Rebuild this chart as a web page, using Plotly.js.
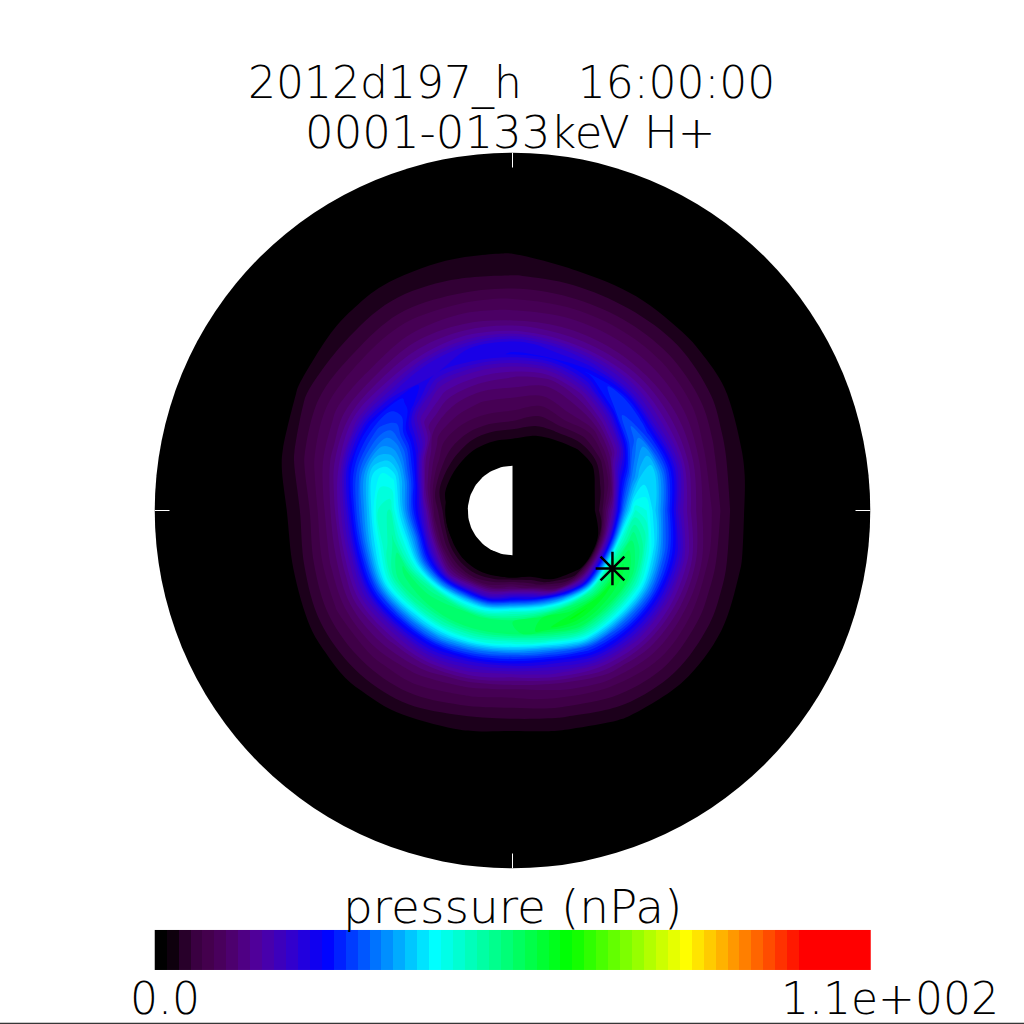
<!DOCTYPE html>
<html><head><meta charset="utf-8"><script src="https://cdn.plot.ly/plotly-3.0.1.min.js"></script>
<style>html,body{margin:0;padding:0;background:#fff}</style></head><body><div id="c" style="width:1024px;height:1024px"></div>
<script>
const radii=[1.5,1.75,2,2.25,2.5,2.75,3,3.25,3.5,3.75,4,4.25,4.5,4.75,5,5.25,5.5,5.75,6];
const angles=[0,15,30,45,60,75,90,105,120,135,150,165,180,195,210,225,240,255,270,285,300,315,330,345,360];
const p000=[0,0,5,16,34,46,44,37,28,18,12.5,9,7,4.5,2.7,1.5,0,0,0];
const p015=[0,0,3,8,24,33,39,40,31,22,14,10,7,5,3.2,2.1,.8,0,0];
const p030=[0,0,1,5,11,18,29,33,27,19,14,11,8.5,6.5,4.4,3,1.7,.3,0];
const p045=[0,.3,2,5,8,13,19,28,29,20,14.5,11,9,7,5,3.5,1.9,.4,0];
const p060=[0,1,3.5,6.5,9,11,14,20,26,20,14,11,9,7,5,3.4,2,.6,0];
const p075=[0,2,4,6,8,10,12,17,24,21,14,11,9,7,5,3.5,2.1,.8,0];
const p090=[1,3,5.5,7.5,9,11,13,17,24,23,15,11,9,7.2,5.2,3.7,2.7,1.8,0];
const p105=[1,3,5.5,7.5,9,11,13.5,17,23,22,15.5,11.5,9.5,7.5,5.5,4,3,2,.6];
const p120=[1,3,5.5,7.5,9.5,11.5,14,17,22,21,15,12,9.5,8,6,4.5,3.2,2.2,.5];
const p135=[1,3.5,6,8,11,14,18,25,26,20,15,11.5,9,7.5,5.5,4,2.8,1.5,0];
const p150=[1,4,8,13,24,30,33,33,30,25,17,12,9.5,7.5,5.5,4,2,.8,0];
const p165=[1,4.5,12,26,35,42,43,40,32,25,15,10.5,8,6,4,2.3,.5,0,0];
const p180=[2.5,7,19,29,39,48,46,37,29,19,12,8.5,5.8,3.7,2.1,.7,0,0,0];
const p195=[2.5,8,20,33,43,50,46,38,28,18,12,9,6.3,4.2,2.2,.9,.1,0,0];
const p210=[1.5,7,18,30,44,54,51,42,30,20,14,10,7.5,5.3,3.4,1.6,.4,0,0];
const p225=[1,6,14,32,50,55,49,38,27,18,13,10,7.5,5.5,3.7,2.1,.5,0,0];
const p240=[1,6,19,38,53,55,47,36,25,18,12,9,7,5,3.2,1.5,.3,0,0];
const p255=[1.5,8,20,40,54,54,45,32,22,16,10,7.5,5.5,3.5,2.1,.8,0,0,0];
const p270=[2,11,26,45,55,54,43,30,21,14,9,6.8,4.8,3,1.4,.3,0,0,0];
const p285=[1,7,22,42,57,58,47,33,23,17,11,8,5.8,3.8,2.1,.9,0,0,0];
const p300=[0,1.2,9,34,54,61,55,44,30,22,15,10.5,7.5,5.5,3.7,2.1,.4,0,0];
const p315=[0,0,2.5,20,48,60,55,45,33,24,17,12,9,6.5,4.5,2.8,1.2,.1,0];
const p330=[0,0,.5,22,50,58,55,46,35,25,17,12,8.5,6,4.2,2.6,1.2,.1,0];
const p345=[0,0,2,20,45,54,50,41,32,24,16,11,7.5,5,3.3,1.9,.4,0,0];
const pressure=[p000,p015,p030,p045,p060,p075,p090,p105,p120,p135,p150,p165,p180,p195,p210,p225,p240,p255,p270,p285,p300,p315,p330,p345,p000];
const pressureMax=110, levelCount=60;
const colorStops=[[0,'#000000'],[.01,'#000000'],[.02,'#140012'],[.035,'#2a002c'],[.05,'#3a0040'],[.07,'#45004f'],[.09,'#4a0060'],[.11,'#4f0078'],[.14,'#5000a0'],[.19,'#3000d0'],[.235,'#0000ff'],[.39,'#00ffff'],[.58,'#00ff00'],[.745,'#ffff00'],[.915,'#ff0000'],[1,'#ff0000']];
const bandShift=1/levelCount;
const fillStops=[[0,'#000000']].concat(colorStops.filter(s=>s[0]>bandShift&&s[0]<1).map(s=>[s[0]-bandShift,s[1]]),[[1,'#ff0000']]);
const discRadius=8, earthRadius=1;
const traceX=[2.235], traceY=[-1.296];
const titleLines=['2012d197_h    16:00:00','0001-0133keV H+'];
const barTitle='pressure (nPa)', barMinLabel='0.0', barMaxLabel='1.1e+002';
const pxPerUnit=44.72, cx=512.5, cy=510.5;
const xr=[-cx/pxPerUnit,(1024-cx)/pxPerUnit], yr=[-(1024-cy)/pxPerUnit,cy/pxPerUnit];
const levels=Array.from({length:levelCount},(_,i)=>i*pressureMax/(levelCount-1));
const FONT='"DejaVu Sans Light","DejaVu Sans ExtraLight","DejaVu Sans",sans-serif';
const earthX=[],earthY=[];
for(let a=90;a<=270;a+=3){earthX.push(earthRadius*Math.cos(a*Math.PI/180));earthY.push(earthRadius*Math.sin(a*Math.PI/180));}
const tl=discRadius-0.33;
const gridX=angles.map(t=>radii.map(r=>r*Math.cos(t*Math.PI/180)));
const gridY=angles.map(t=>radii.map(r=>r*Math.sin(t*Math.PI/180)));
const hiddenAxis={showgrid:false,showline:false,showticklabels:'none',startline:false,endline:false,minorgridcount:0,smoothing:1};
const traces=[
{type:'carpet',carpet:'polar',a:radii,b:angles,x:gridX,y:gridY,aaxis:hiddenAxis,baxis:hiddenAxis,hoverinfo:'skip'},
{type:'contourcarpet',carpet:'polar',a:radii,b:angles,z:pressure,zmin:0,zmax:pressureMax,zauto:false,autocontour:false,colorscale:fillStops,showscale:false,hoverinfo:'skip',
 contours:{coloring:'fill',start:pressureMax/levelCount,end:pressureMax,size:pressureMax/levelCount,showlines:false},line:{width:0}},
{type:'scatter',mode:'lines',x:earthX,y:earthY,fill:'toself',fillcolor:'#fff',line:{color:'#fff',width:0},hoverinfo:'skip'},
{type:'scatter',mode:'lines',x:[-discRadius,-tl,null,tl,discRadius,null,0,0,null,0,0],y:[0,0,null,0,0,null,tl,discRadius,null,-tl,-discRadius],line:{color:'#fff',width:1},hoverinfo:'skip'},
{type:'scatter',mode:'markers',x:traceX,y:traceY,marker:{symbol:'asterisk-open',size:28,color:'#000',line:{color:'#000',width:2.5}},hoverinfo:'skip'},
{type:'heatmap',z:[levels],x0:-discRadius+discRadius/levelCount,dx:2*discRadius/levelCount,y0:-9.83,dy:0.9,zmin:0,zmax:pressureMax,zauto:false,colorscale:colorStops,showscale:false,hoverinfo:'skip',zsmooth:false}
];
function ann(text,x,y,size,anchor){return {text,xref:'paper',yref:'paper',x:x/1024,y:1-y/1024,xanchor:anchor||'center',yanchor:'middle',showarrow:false,font:{family:FONT,size,weight:200,color:'#000'}};}
const layout={width:1024,height:1024,margin:{l:0,r:0,t:0,b:0},paper_bgcolor:'#fff',plot_bgcolor:'#fff',showlegend:false,
 xaxis:{range:xr,visible:false,fixedrange:true},yaxis:{range:yr,visible:false,fixedrange:true},
 shapes:[{type:'circle',layer:'below',xref:'x',yref:'y',x0:-discRadius,x1:discRadius,y0:-discRadius,y1:discRadius,fillcolor:'#000',line:{width:0}},
 {type:'line',xref:'paper',yref:'paper',x0:0,x1:1,y0:0.0007,y1:0.0007,line:{color:'#000',width:1}}],
 annotations:[ann(titleLines[0],511,83,44),ann(titleLines[1],510,132,45),ann(barTitle,512,906,47),ann(barMinLabel,165,998,44),ann(barMaxLabel,1001,998,44,'right')]};
Plotly.newPlot('c',traces,layout,{staticPlot:true,displayModeBar:false});
</script></body></html>
